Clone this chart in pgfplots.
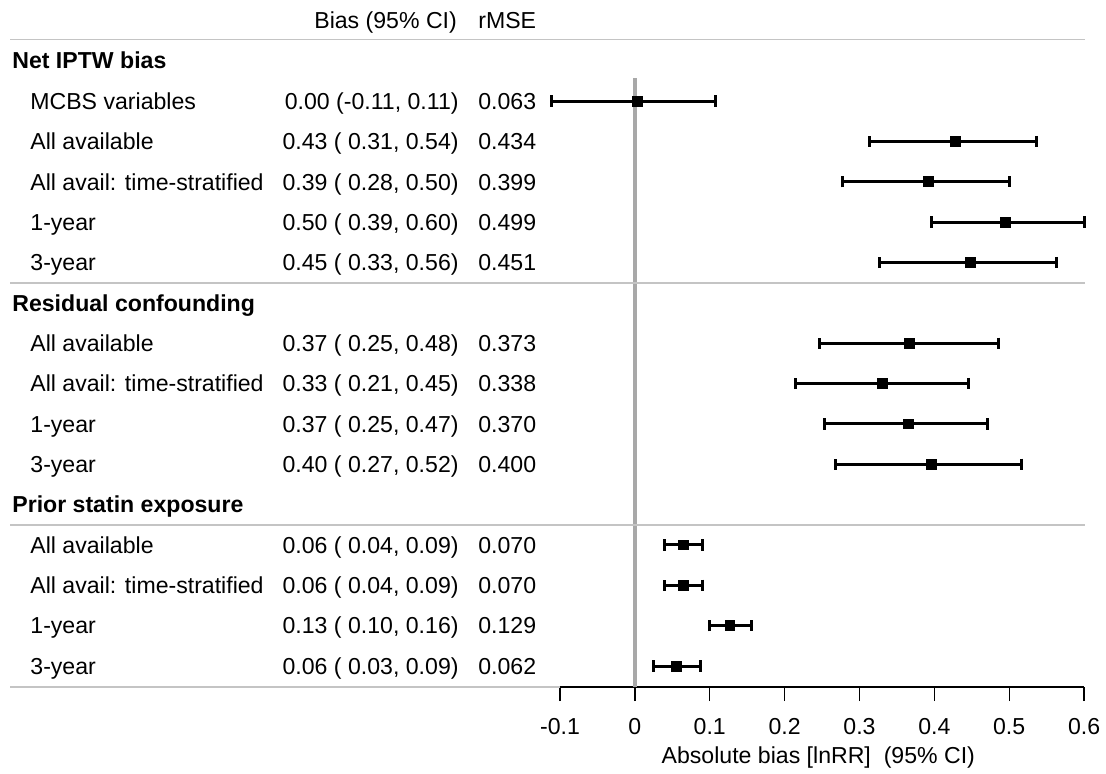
\documentclass[border=0pt]{standalone}
\usepackage{fontspec}
\setmainfont{Liberation Sans}
\usepackage{pgfplots}
\usepackage{pgfplotstable}
\pgfplotsset{compat=1.18}
\definecolor{sepgray}{HTML}{C4C4C4}
\definecolor{zerogray}{HTML}{A8A8A8}

% y = -row, m = estimate, lo/hi = 95% CI
\pgfplotstableread{
y   m      lo     hi
-2  0.003  -0.111 0.108
-3  0.4285 0.314  0.537
-4  0.392  0.277  0.500
-5  0.495  0.396  0.600
-6  0.448  0.327  0.563
}\netiptw
\pgfplotstableread{
y    m      lo     hi
-8   0.3666 0.247  0.4855
-9   0.331  0.214  0.446
-10  0.3657 0.253  0.4708
-11  0.396  0.268  0.516
}\residual
\pgfplotstableread{
y    m      lo     hi
-13  0.0647 0.0402 0.090
-14  0.0647 0.0402 0.090
-15  0.127  0.0994 0.1555
-16  0.0558 0.0246 0.087
}\statin

\newcommand\rowtxt[4]{%
  \node[txt,anchor=base west] at (axis cs:-0.808,{-#1-0.205}) {#2};
  \node[txt,anchor=base east] at (axis cs:-0.235,{-#1-0.205}) {#3};
  \node[txt,anchor=base west] at (axis cs:-0.2096,{-#1-0.205}) {#4};}
\newcommand\grouptxt[2]{%
  \node[txt,anchor=base west,font=\fontsize{11.55}{13.86}\selectfont\bfseries] at (axis cs:-0.8321,{-#1-0.205}) {#2};}

\begin{document}
\begin{tikzpicture}[font=\fontsize{11.55}{13.86}\selectfont, txt/.style={inner sep=0pt}]
\begin{axis}[
  x=374.3pt, y=20.18pt,
  xmin=-0.1, xmax=0.6, ymin=-16.52, ymax=0.503,
  enlargelimits=false,
  clip=false,
  axis x line=bottom, axis y line=none,
  axis line style={-, black, line width=0.7pt},
  xtick={-0.1,0,0.1,0.2,0.3,0.4,0.5,0.6},
  xticklabels={-0.1,0,0.1,0.2,0.3,0.4,0.5,0.6},
  xtick align=outside,
  major tick length=7pt,
  tick style={black, line width=0.7pt},
  xticklabel style={anchor=base, yshift=-16.5pt, font=\fontsize{11.55}{13.86}\selectfont},
  /pgf/number format/assume math mode=true,
  error bars/x dir=both,
  error bars/x explicit,
  error bars/error mark=|,
  error bars/error bar style={black, line width=1.5pt},
  error bars/error mark options={black, line width=1.5pt, mark size=2.8pt},
]
% reference line at zero
\addplot[zerogray, line width=2pt, forget plot] coordinates {(0,-1.43) (0,-16.52)};

% separators
\draw[sepgray, line width=0.8pt] (axis cs:-0.8347,-0.48) -- (axis cs:0.6013,-0.48);
\draw[sepgray, line width=0.8pt] (axis cs:-0.8347,-6.51) -- (axis cs:0.6013,-6.51);
\draw[sepgray, line width=0.8pt] (axis cs:-0.8347,-12.5) -- (axis cs:0.6013,-12.5);
\draw[sepgray, line width=0.8pt] (axis cs:-0.8347,-16.52) -- (axis cs:-0.1,-16.52);

\addplot[black, only marks, mark=square*, mark size=2.45pt]
  table[x=m, y=y, x error plus expr=\thisrow{hi}-\thisrow{m}, x error minus expr=\thisrow{m}-\thisrow{lo}] {\netiptw};
\addplot[black, only marks, mark=square*, mark size=2.45pt]
  table[x=m, y=y, x error plus expr=\thisrow{hi}-\thisrow{m}, x error minus expr=\thisrow{m}-\thisrow{lo}] {\residual};
\addplot[black, only marks, mark=square*, mark size=2.45pt]
  table[x=m, y=y, x error plus expr=\thisrow{hi}-\thisrow{m}, x error minus expr=\thisrow{m}-\thisrow{lo}] {\statin};

% header
\node[txt,anchor=base west] at (axis cs:-0.4287,-0.205) {Bias (95\% CI)};
\node[txt,anchor=base west] at (axis cs:-0.2096,-0.205) {rMSE};

\grouptxt{1}{Net IPTW bias}
\rowtxt{2}{MCBS variables}{0.00 (-0.11, 0.11)}{0.063}
\rowtxt{3}{All available}{0.43 ( 0.31, 0.54)}{0.434}
\rowtxt{4}{All avail: time-stratified}{0.39 ( 0.28, 0.50)}{0.399}
\rowtxt{5}{1-year}{0.50 ( 0.39, 0.60)}{0.499}
\rowtxt{6}{3-year}{0.45 ( 0.33, 0.56)}{0.451}
\grouptxt{7}{Residual confounding}
\rowtxt{8}{All available}{0.37 ( 0.25, 0.48)}{0.373}
\rowtxt{9}{All avail: time-stratified}{0.33 ( 0.21, 0.45)}{0.338}
\rowtxt{10}{1-year}{0.37 ( 0.25, 0.47)}{0.370}
\rowtxt{11}{3-year}{0.40 ( 0.27, 0.52)}{0.400}
\grouptxt{12}{Prior statin exposure}
\rowtxt{13}{All available}{0.06 ( 0.04, 0.09)}{0.070}
\rowtxt{14}{All avail: time-stratified}{0.06 ( 0.04, 0.09)}{0.070}
\rowtxt{15}{1-year}{0.13 ( 0.10, 0.16)}{0.129}
\rowtxt{16}{3-year}{0.06 ( 0.03, 0.09)}{0.062}

% x axis title
\node[txt,anchor=base] at (axis cs:0.245,-18.41) {Absolute bias [lnRR]\ \ (95\% CI)};

\coordinate (bbA) at (axis cs:-0.8481,0.503);
\coordinate (bbB) at (axis cs:0.6293,-18.65);
\end{axis}
\pgfresetboundingbox
\path (bbA) rectangle (bbB);
\end{tikzpicture}
\end{document}
